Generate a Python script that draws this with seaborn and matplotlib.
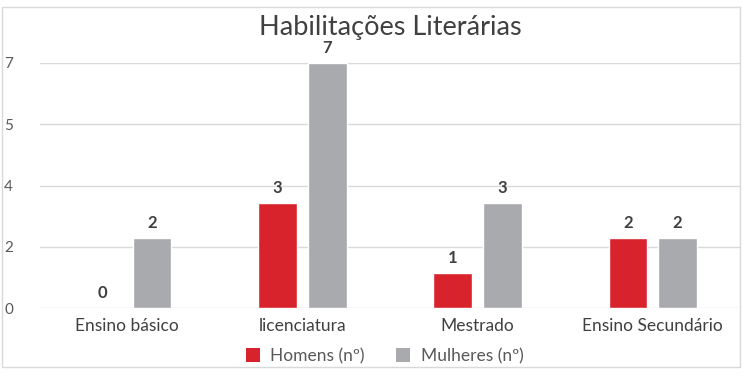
import matplotlib
matplotlib.use("Agg")
import matplotlib.pyplot as plt
import matplotlib.patches as mpatches
from matplotlib.ticker import FixedLocator, FixedFormatter
import pandas as pd
import seaborn as sns

# Data
categories = ["Ensino básico", "licenciatura", "Mestrado", "Ensino Secundário"]
homens = [0, 3, 1, 2]
mulheres = [2, 7, 3, 2]
series_names = ["Homens (nº)", "Mulheres (nº)"]
y_ticks = [0, 1.75, 3.5, 5.25, 7]
y_tick_labels = ["0", "2", "4", "5", "7"]

colors = ["#d8232c", "#a9aaae"]

df = pd.DataFrame({
    "categoria": categories * 2,
    "valor": homens + mulheres,
    "serie": [series_names[0]] * len(categories) + [series_names[1]] * len(categories),
})

sns.set_theme(style="white")
plt.rcParams["font.family"] = ["Lato", "DejaVu Sans"]

fig = plt.figure(figsize=(7.47, 3.76), dpi=100)
ax = fig.add_axes([39.5 / 747, 68 / 376, 701 / 747, 245 / 376])

sns.barplot(data=df, x="categoria", y="valor", hue="serie", hue_order=series_names,
            order=categories, palette=colors, width=0.566, gap=0.22,
            saturation=1, errorbar=None, ax=ax)

ax.set_ylim(0, 7)
ax.set_xlim(-0.5, len(categories) - 0.5)
ax.yaxis.set_major_locator(FixedLocator(y_ticks))
ax.yaxis.set_major_formatter(FixedFormatter(y_tick_labels))
ax.grid(axis="y", color="#d9d9d9", linewidth=1.0)
ax.set_axisbelow(True)
for s in ax.spines.values():
    s.set_visible(False)
ax.set_xlabel("")
ax.set_ylabel("")
ax.tick_params(axis="y", length=0, pad=19, labelsize=11, labelcolor="#595959")
ax.tick_params(axis="x", length=0, pad=7, labelsize=12.5, labelcolor="#404040")

for cont in ax.containers:
    ax.bar_label(cont, fmt="%d", padding=5, fontsize=12, fontweight="bold",
                 color="#404040")

ax.get_legend().remove()
handles = [mpatches.Patch(facecolor=c, edgecolor="none") for c in colors]
fig.legend(handles, series_names, loc="center", bbox_to_anchor=(0.515, 20 / 376),
           ncol=2, frameon=False, fontsize=12.5, labelcolor="#595959",
           handlelength=0.8, handleheight=0.8, columnspacing=1.8, handletextpad=0.6)

fig.text(390 / 747, 1 - 27 / 376, "Habilitações Literárias", ha="center", va="center",
         fontsize=19.5, color="#404040")

fig.patches.append(mpatches.Rectangle((2 / 747, 9 / 376), 738 / 747, 360 / 376,
                                      transform=fig.transFigure, fill=False,
                                      edgecolor="#d9d9d9", linewidth=1.0))

fig.savefig("out.png", dpi=100, facecolor="white")
